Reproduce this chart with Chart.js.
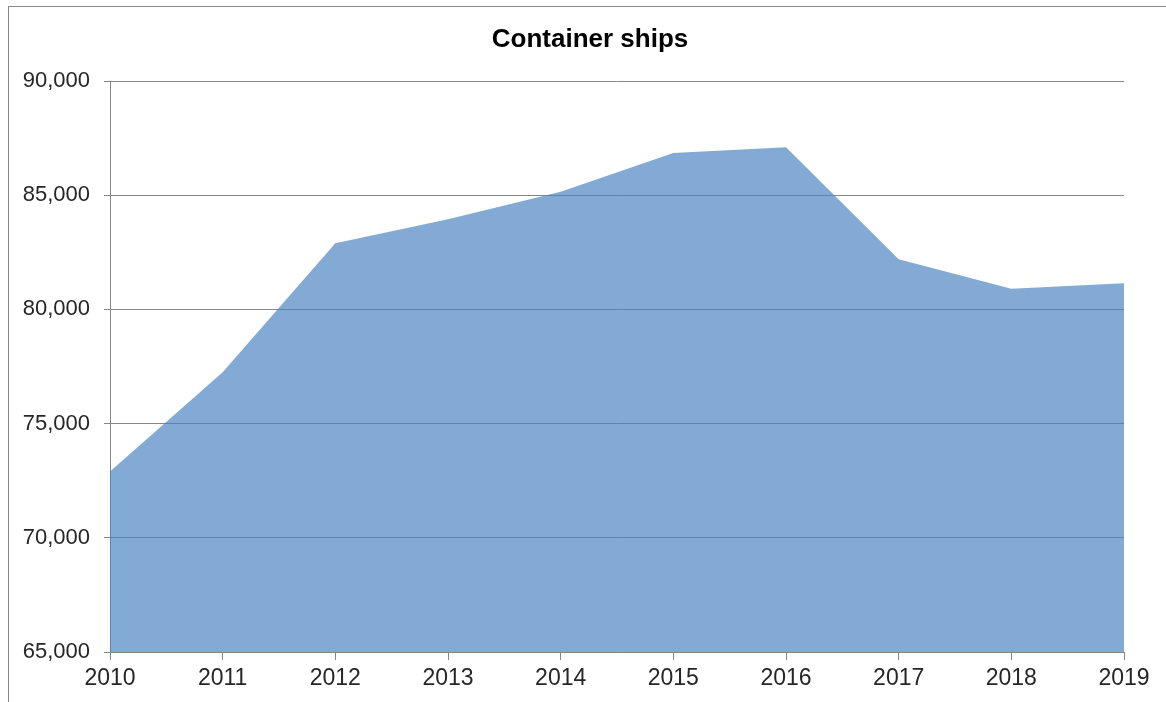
<!DOCTYPE html>
<html>
<head>
<meta charset="utf-8">
<script src="https://cdn.jsdelivr.net/npm/chart.js@4/dist/chart.umd.min.js"></script>
<style>
  html, body { margin: 0; padding: 0; background: #fff; overflow: hidden; }
  #frame { position: absolute; left: 8px; top: 6px; width: 1200px; height: 720px; border-left: 1px solid #8a8a8a; border-top: 1px solid #8a8a8a; }
  #wrap { position: absolute; left: 0; top: 0; width: 1166px; height: 702px; }
</style>
</head>
<body>
<div id="frame"></div>
<div id="wrap"><canvas id="c"></canvas></div>
<script>
/* Container ships – area chart, 2010-2019 */
const chartTitle = 'Container ships';
const years = ['2010', '2011', '2012', '2013', '2014', '2015', '2016', '2017', '2018', '2019'];
const ships = [72900, 77250, 82900, 83950, 85150, 86850, 87100, 82200, 80900, 81150];
const yTicks = [65000, 70000, 75000, 80000, 85000, 90000];

const gridGray = '#868686';
const txt = '#262626';
const fontFam = '"Liberation Sans", Arial, sans-serif';
Chart.defaults.font.family = fontFam;

// Excel centres the title on the whole chart frame (which runs past the window), not the plot
const frameTitle = {
    id: 'frameTitle',
    afterDraw(chart) {
        const ctx = chart.ctx;
        ctx.save();
        ctx.font = 'bold 26px ' + fontFam;
        ctx.fillStyle = '#000';
        ctx.textAlign = 'center';
        ctx.textBaseline = 'middle';
        ctx.fillText(chartTitle, 590, 40);
        ctx.restore();
    }
};

new Chart(document.getElementById('c'), {
    type: 'line',
    data: {
        labels: years,
        datasets: [{
            data: ships,
            fill: 'start',
            backgroundColor: 'rgba(74,132,192,0.69)',
            borderWidth: 0,
            pointRadius: 0,
            tension: 0,
        }]
    },
    plugins: [frameTitle],
    options: {
        responsive: true,
        maintainAspectRatio: false,
        animation: false,
        layout: { padding: { left: 0, right: 42, top: 81, bottom: 0 } },
        plugins: {
            legend: { display: false },
            tooltip: { enabled: false },
            title: { display: false },
        },
        scales: {
            x: {
                offset: false,
                border: { color: gridGray, width: 1 },
                grid: { drawOnChartArea: false, drawTicks: true, tickLength: 8, color: gridGray },
                ticks: { color: txt, font: { size: 23 }, padding: 5, maxRotation: 0, autoSkip: false },
                afterFit: s => { s.height = 50; },
            },
            y: {
                min: 65000,
                max: 90000,
                border: { color: gridGray, width: 1 },
                grid: { color: gridGray, lineWidth: 1, drawTicks: true, tickLength: 6 },
                afterBuildTicks: s => { s.ticks = yTicks.map(v => ({ value: v })); },
                ticks: {
                    color: txt,
                    font: { size: 22 },
                    padding: 14,
                    callback: v => v.toLocaleString('en-US'),
                },
                afterFit: s => { s.width = 110; },
            }
        }
    }
});
</script>
</body>
</html>
